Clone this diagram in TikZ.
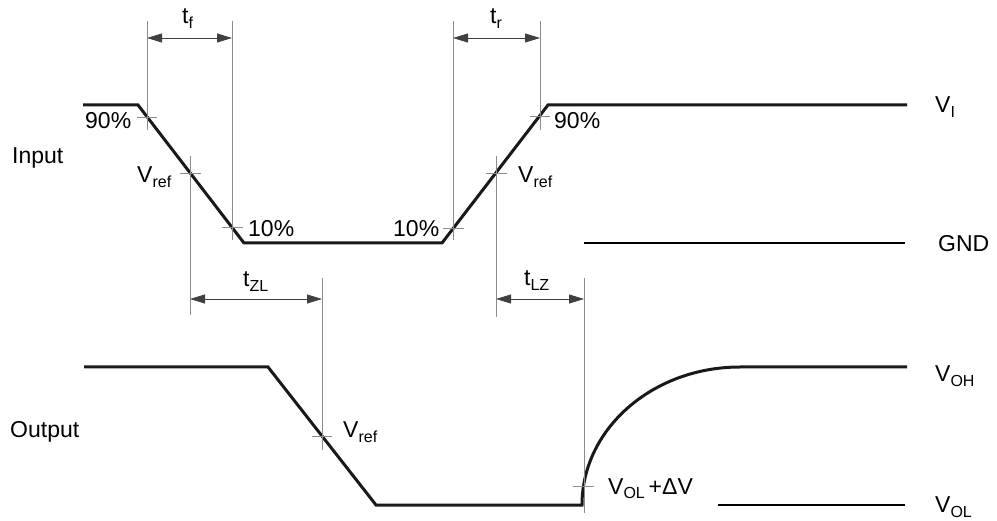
\documentclass[tikz,border=0pt]{standalone}
\usepackage{fontspec}
\setmainfont{Liberation Sans}
\usetikzlibrary{arrows.meta}
\newcommand{\sbs}[1]{\raisebox{-5pt}{\fontsize{16}{16}\selectfont #1}}
\begin{document}
\begin{tikzpicture}[x=1pt,y=-1pt,
  wave/.style={line width=3pt, line join=miter, draw=black!90},
  guide/.style={draw=black!45, line width=0.8pt},
  tickmark/.style={draw=black!45, line width=0.8pt},
  dimline/.style={draw=black!75, line width=0.8pt, {Triangle[length=15pt,width=9pt]}-{Triangle[length=15pt,width=9pt]}},
  lvl/.style={draw=black, line width=1.1pt},
  lbl/.style={anchor=base west, inner sep=0pt, font=\fontsize{23}{27}\selectfont}]
\useasboundingbox (0,0) rectangle (997,521);

% ---------- input waveform ----------
\coordinate (i0) at (83,105);
\coordinate (i1) at (138,105);
\coordinate (i2) at (244,243);
\coordinate (i3) at (442,243);
\coordinate (i4) at (548,105);
\coordinate (i5) at (907,105);
\draw[wave] (i0) -- (i1) -- (i2) -- (i3) -- (i4) -- (i5);

% ---------- output waveform ----------
\coordinate (o0) at (84,367);
\coordinate (o1) at (268,367);
\coordinate (o2) at (376,505);
\coordinate (o3) at (582,505);
\coordinate (o4) at (740,367);
\coordinate (o5) at (907,367);
\draw[wave] (o0) -- (o1) -- (o2) -- (o3)
  .. controls (582,428.8) and (652.7,367) .. (o4) -- (o5);

% ---------- level lines ----------
\coordinate (gndA) at (584,243);
\coordinate (gndB) at (905,243);
\coordinate (volA) at (718,505);
\coordinate (volB) at (905,505);
\draw[lvl] (gndA) -- (gndB);
\draw[lvl] (volA) -- (volB);

% ---------- guide lines ----------
\draw[guide] (147,21) -- (147,130);
\draw[guide] (190,156) -- (190,315);
\draw[guide] (232,21) -- (232,240);
\draw[guide] (453,21) -- (453,240);
\draw[guide] (540,21) -- (540,130);
\draw[guide] (496,156) -- (496,317);
\draw[guide] (322,278) -- (322,450);
\draw[guide] (584,278) -- (584,513);

% ---------- tick marks ----------
\draw[tickmark] (137,117) -- (157,117);
\draw[tickmark] (180,173) -- (201,173);
\draw[tickmark] (222,227) -- (243,227);
\draw[tickmark] (443,228) -- (464,228);
\draw[tickmark] (486,173) -- (507,173);
\draw[tickmark] (530,116) -- (550,116);
\draw[tickmark] (312,436) -- (332,436);
\draw[tickmark] (573,486) -- (594,486);

% ---------- dimension arrows ----------
\coordinate (tfA) at (147,38);  \coordinate (tfB) at (232,38);
\coordinate (trA) at (453,38);  \coordinate (trB) at (540,38);
\coordinate (tzlA) at (190,299); \coordinate (tzlB) at (322,299);
\coordinate (tlzA) at (496,299); \coordinate (tlzB) at (584,299);
\draw[dimline] (tfA) -- (tfB);
\draw[dimline] (trA) -- (trB);
\draw[dimline] (tzlA) -- (tzlB);
\draw[dimline] (tlzA) -- (tlzB);

% ---------- labels ----------
\node[lbl] (lin)  at (12,164) {Input};
\node[lbl] (lout) at (10,438) {Output};
\node[lbl] (l90f) at (85,129) {90\%};
\node[lbl] (lvrf) at (137,183) {V\sbs{ref}};
\node[lbl] (l10f) at (248,237) {10\%};
\node[lbl] (ltf)  at (182,24) {t\sbs{f}};
\node[lbl] (l10r) at (393,237) {10\%};
\node[lbl] (lvrr) at (518,183) {V\sbs{ref}};
\node[lbl] (l90r) at (554,129) {90\%};
\node[lbl] (ltr)  at (490,24) {t\sbs{r}};
\node[lbl] (ltzl) at (243,287) {t\sbs{ZL}};
\node[lbl] (ltlz) at (524,286) {t\sbs{LZ}};
\node[lbl] (lvro) at (343,438) {V\sbs{ref}};
\node[lbl] (lvdv) at (608,494) {V\sbs{OL}\,+ΔV};
\node[lbl] (lvi)  at (935,113) {V\sbs{I}};
\node[lbl] (lgnd) at (938,252) {GND};
\node[lbl] (lvoh) at (935,382) {V\sbs{OH}};
\node[lbl] (lvol) at (935,512) {V\sbs{OL}};
\end{tikzpicture}
\end{document}
